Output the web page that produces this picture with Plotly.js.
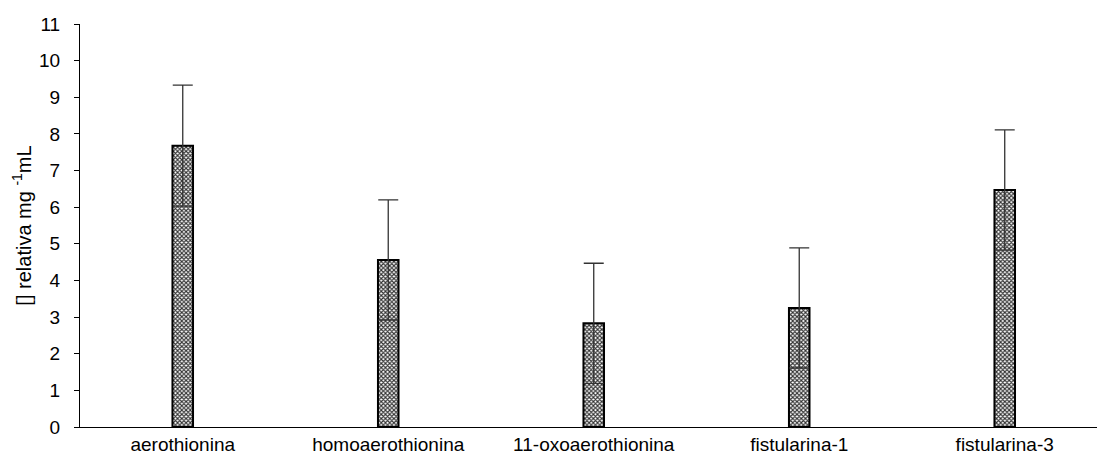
<!DOCTYPE html>
<html>
<head>
<meta charset="utf-8">
<script src="https://cdn.plot.ly/plotly-3.0.1.min.js"></script>
<style>html,body{margin:0;padding:0;background:#fff;}#chart{width:1097px;height:461px;}</style>
</head>
<body>
<div id="chart"></div>
<script>
var categories = ["aerothionina", "homoaerothionina", "11-oxoaerothionina", "fistularina-1", "fistularina-3"];
var values = [7.68, 4.56, 2.83, 3.25, 6.47];
var errors = [1.65, 1.64, 1.64, 1.64, 1.64];
var yTicks = [0,1,2,3,4,5,6,7,8,9,10,11];

var trace = {
  type: "bar",
  x: categories,
  y: values,
  width: 0.1,
  marker: {
    color: "#ffffff",
    line: {color: "#000000", width: 2},
    pattern: {shape: "x", size: 3, solidity: 0.6, fgcolor: "#333333", bgcolor: "#ffffff"}
  },
  error_y: {type: "data", array: errors, symmetric: true, visible: true, color: "#333333", thickness: 1.3, width: 10},
  hoverinfo: "skip"
};

var layout = {
  width: 1097, height: 461,
  margin: {l: 80, r: 0, t: 24, b: 34},
  paper_bgcolor: "#ffffff",
  plot_bgcolor: "#ffffff",
  font: {family: "Liberation Sans, Arial, sans-serif", size: 18, color: "#000"},
  showlegend: false,
  bargap: 0,
  xaxis: {
    type: "category",
    range: [-0.5, 4.449],
    showline: true, linecolor: "#000", linewidth: 1,
    ticks: "", showgrid: false, zeroline: false,
    tickfont: {size: 19}
  },
  yaxis: {
    range: [0, 11],
    tickvals: yTicks,
    ticktext: yTicks.map(String),
    showline: true, linecolor: "#000", linewidth: 1,
    ticks: "outside", ticklen: 5, tickcolor: "#000",
    ticklabelstandoff: 10,
    showgrid: false, zeroline: false,
    tickfont: {size: 19},
    title: {text: "[] relativa mg <sup>-1</sup>mL", font: {size: 20}, standoff: 2}
  }
};

Plotly.newPlot("chart", [trace], layout, {staticPlot: true, displayModeBar: false});
</script>
</body>
</html>
